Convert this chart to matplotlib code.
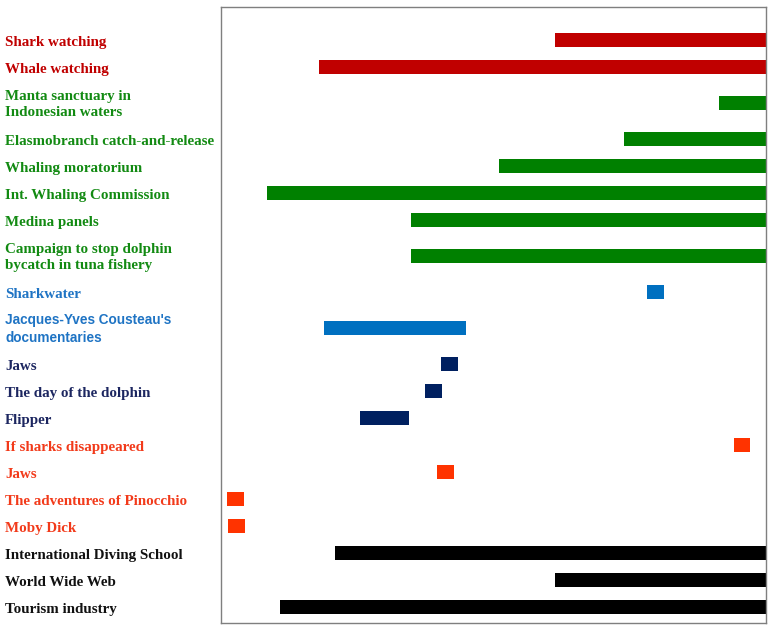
import matplotlib
matplotlib.use('Agg')
import matplotlib.pyplot as plt
import matplotlib.transforms as mtransforms

# Timeline items, top to bottom (x in approximate years)
labels = ['Shark watching', 'Whale watching',
          'Manta sanctuary in\nIndonesian waters',
          'Elasmobranch catch-and-release', 'Whaling moratorium',
          'Int. Whaling Commission', 'Medina panels',
          'Campaign to stop dolphin\nbycatch in tuna fishery',
          'Sharkwater', "Jacques-Yves Cousteau's\ndocumentaries",
          'Jaws', 'The day of the dolphin', 'Flipper',
          'If sharks disappeared', 'Jaws', 'The adventures of Pinocchio',
          'Moby Dick', 'International Diving School', 'World Wide Web',
          'Tourism industry']
starts = [1991, 1954.1, 2016.6, 2001.8, 1982.3, 1946, 1968.5, 1968.5,
          2005.4, 1954.9, 1973.2, 1970.7, 1960.5, 2019.0, 1972.6, 1939.8,
          1939.9, 1956.6, 1991, 1948.0]
ends = [2024, 2024, 2024, 2024, 2024, 2024, 2024, 2024,
        2008.0, 1977.1, 1975.8, 1973.3, 1968.2, 2021.5, 1975.2, 1942.4,
        1942.6, 2024, 2024, 2024]
groups = ['ecotourism', 'ecotourism', 'policy', 'policy', 'policy', 'policy',
          'policy', 'policy', 'documentary', 'documentary', 'film', 'film',
          'film', 'book', 'book', 'book', 'book', 'other', 'other', 'other']

group_colors = {'ecotourism': '#C00000', 'policy': '#008000',
                'documentary': '#0070C0', 'film': '#002060',
                'book': '#FF3300', 'other': '#000000'}
label_colors = {'ecotourism': '#C00000', 'policy': '#128A12',
                'documentary': '#1F74C4', 'film': '#1C2660',
                'book': '#F23A1A', 'other': '#111111'}

# row heights: two-line labels take more room
heights = [1 + 0.67 * lab.count('\n') for lab in labels]
centers = []
y = 0
for i, h in enumerate(heights):
    y = h / 2 if i == 0 else y + (heights[i - 1] + h) / 2
    centers.append(y)

fig = plt.figure(figsize=(7.71, 6.34), dpi=100)
ax = fig.add_axes([221 / 771, 1 - 623 / 634, 545 / 771, 616 / 634])

for c, s, e, g in zip(centers, starts, ends, groups):
    ax.barh(c, e - s, left=s, height=0.5, color=group_colors[g], linewidth=0)

ax.set_xlim(1938.8, 2024.0)
ax.set_ylim(centers[-1] + 0.6, centers[0] - 1.22)
ax.set_xticks([])
ax.set_yticks([])
for sp in ax.spines.values():
    sp.set_color('#7f7f7f')
    sp.set_linewidth(1.0)

trans = mtransforms.blended_transform_factory(fig.transFigure, ax.transData)
for lab, c, g in zip(labels, centers, groups):
    if lab.startswith('Jacques'):
        fam, size = 'Liberation Sans', 9.8
    else:
        fam, size = 'Liberation Serif', 10.8
    two = '\n' in lab
    ax.text(5 / 771, c + (0.05 if two else 0.1), lab, transform=trans,
            ha='left', va='center', fontsize=size, fontweight='bold',
            family=fam, color=label_colors[g], linespacing=1.35)

fig.savefig('out.png', dpi=100)
